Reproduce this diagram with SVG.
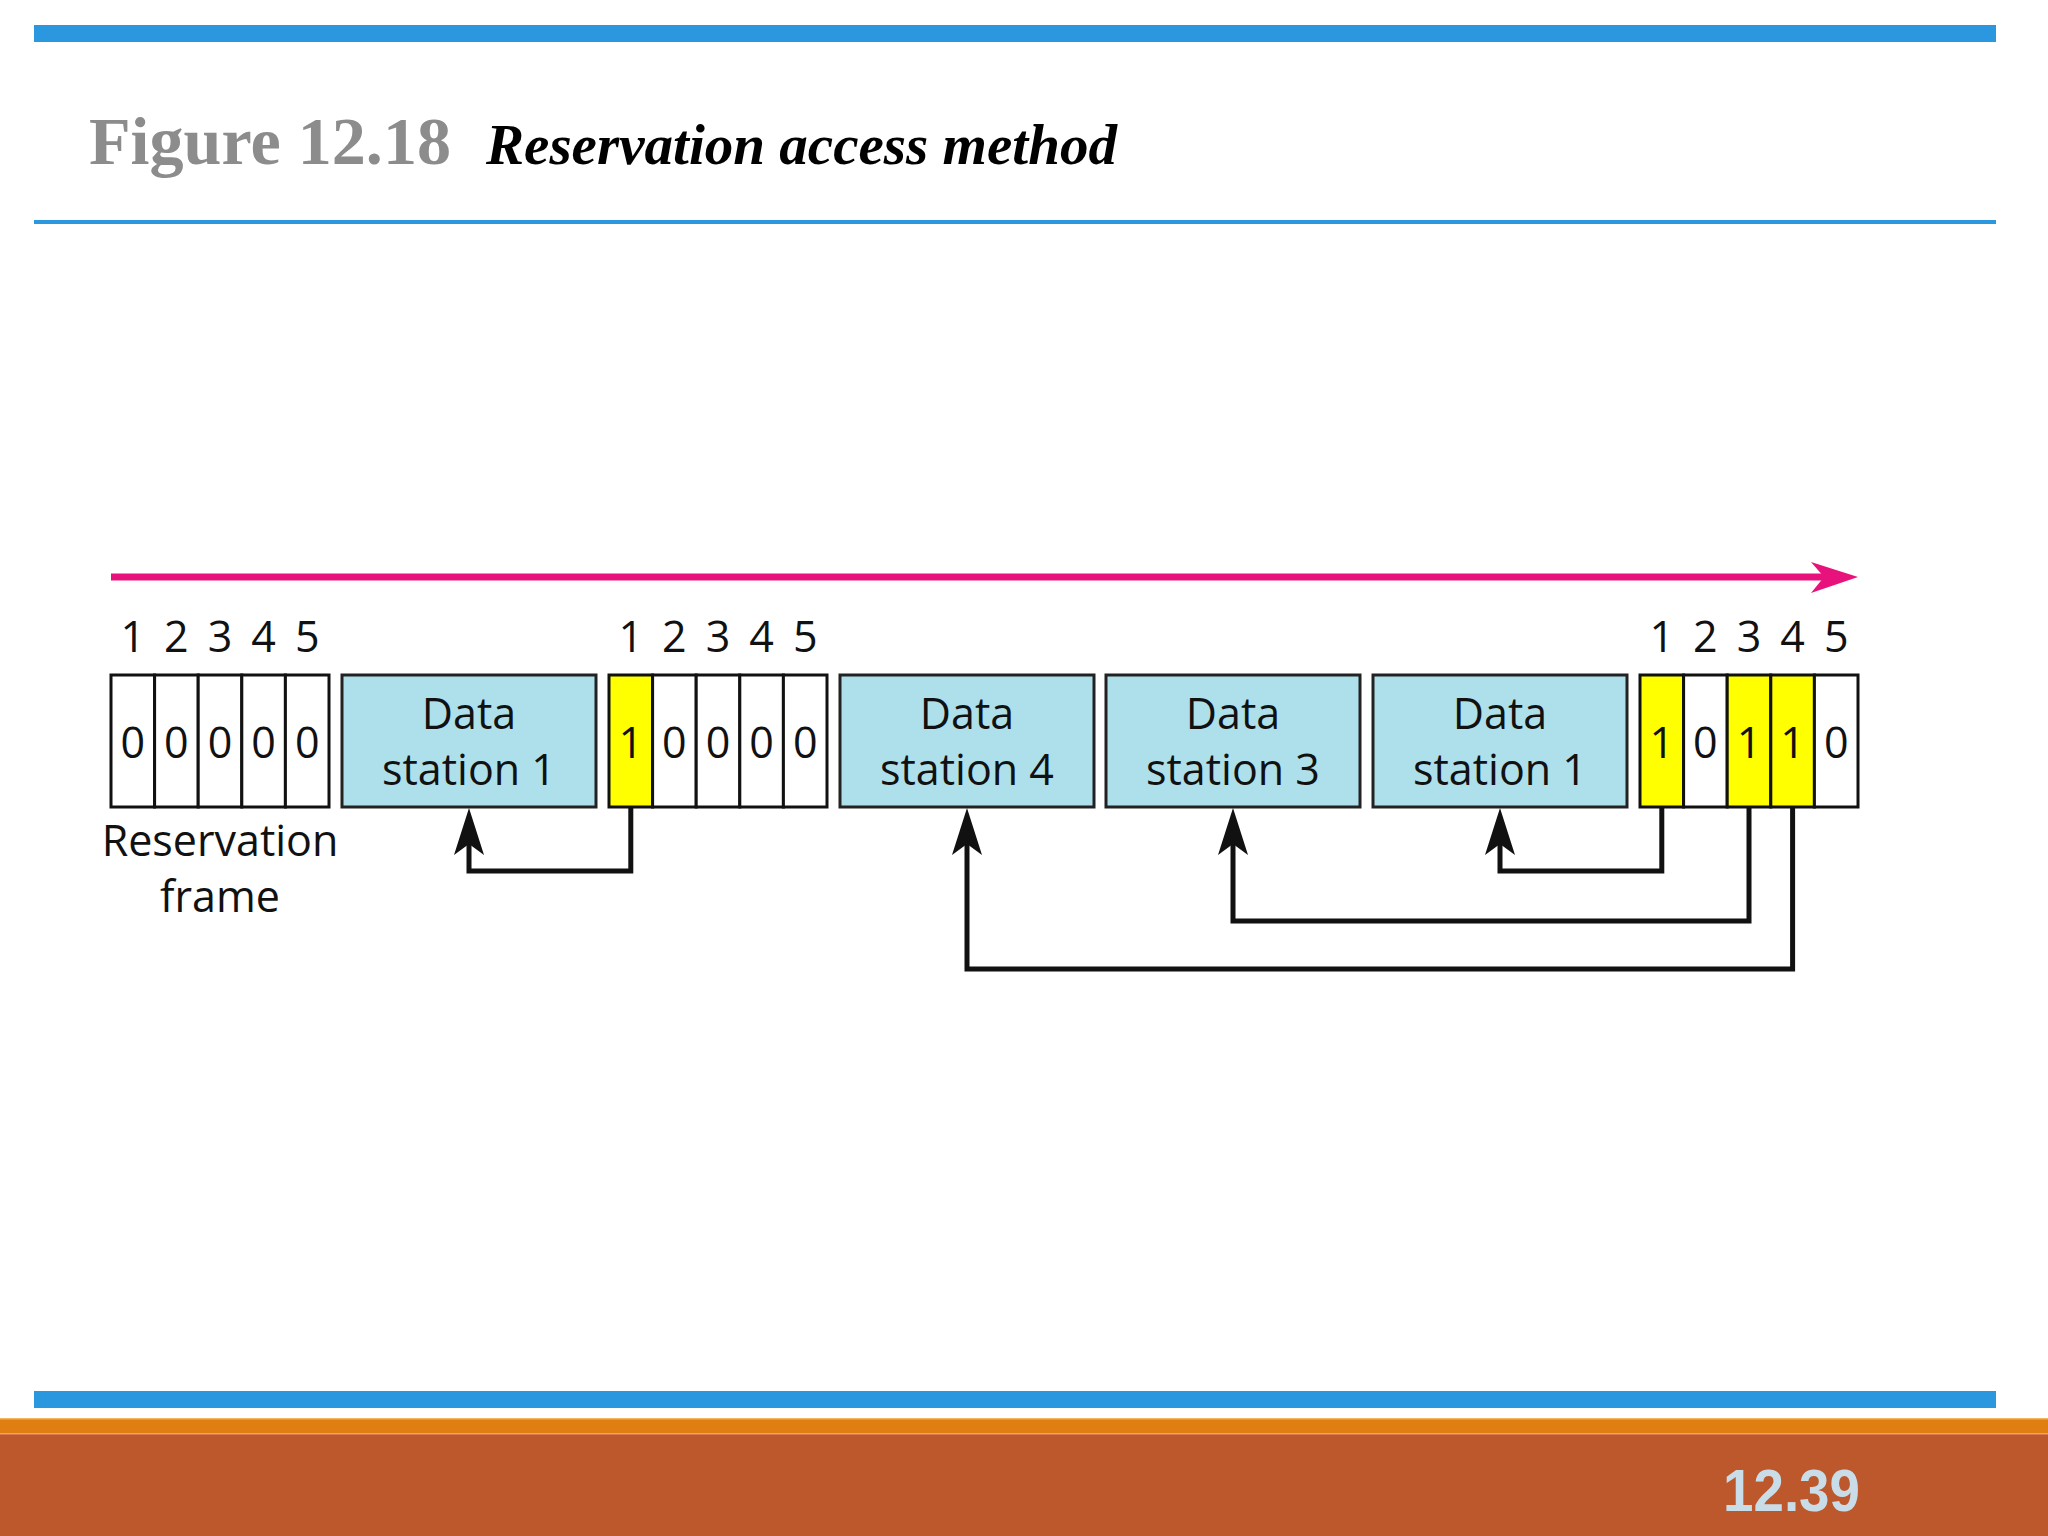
<svg xmlns="http://www.w3.org/2000/svg" width="2048" height="1536" viewBox="0 0 2048 1536">
<style>
.lbl{font-family:"Open Sans","Liberation Sans",sans-serif;font-size:43px;fill:#111;text-anchor:middle}
.cell{fill:#ffffff;stroke:#111;stroke-width:3}
.on{fill:#ffff00;stroke:#111;stroke-width:3}
.box{fill:#aee0eb;stroke:#222;stroke-width:3}
.conn{fill:none;stroke:#111;stroke-width:5;marker-end:url(#ah)}
</style>
<defs>
<marker id="ah" markerUnits="userSpaceOnUse" viewBox="-50 -16 52 32" markerWidth="52" markerHeight="32" refX="-34" refY="0" orient="auto">
<path d="M0,0 L-47,-15 L-36,0 L-47,15 Z" fill="#111"/>
</marker>
</defs>
<rect width="2048" height="1536" fill="#ffffff"/>
<!-- header -->
<rect x="34" y="25" width="1962" height="17" fill="#2b97df"/>
<text x="89" y="164" font-family="Liberation Serif,serif" font-weight="bold" font-size="68" fill="#8c8c8c" textLength="362" lengthAdjust="spacingAndGlyphs">Figure 12.18</text>
<text x="486" y="164" font-family="Liberation Serif,serif" font-weight="bold" font-style="italic" font-size="58" fill="#000" textLength="631" lengthAdjust="spacingAndGlyphs">Reservation access method</text>
<rect x="34" y="220" width="1962" height="4" fill="#2b97df"/>

<!-- time arrow -->
<g id="timeline">
<line x1="111" y1="577" x2="1830" y2="577" stroke="#e8127c" stroke-width="7"/>
<path d="M1858,577 L1811,562 L1824,577 L1811,593 Z" fill="#e8127c"/>
</g>

<!-- reservation frame 1 -->
<g id="frame1">
<rect class="cell" x="111" y="675" width="43.6" height="132"/>
<rect class="cell" x="154.6" y="675" width="43.6" height="132"/>
<rect class="cell" x="198.2" y="675" width="43.6" height="132"/>
<rect class="cell" x="241.8" y="675" width="43.6" height="132"/>
<rect class="cell" x="285.4" y="675" width="43.6" height="132"/>
<text class="lbl" x="132.8" y="652">1</text><text class="lbl" x="176.4" y="652">2</text><text class="lbl" x="220" y="652">3</text><text class="lbl" x="263.6" y="652">4</text><text class="lbl" x="307.2" y="652">5</text>
<text class="lbl" x="132.8" y="758">0</text><text class="lbl" x="176.4" y="758">0</text><text class="lbl" x="220" y="758">0</text><text class="lbl" x="263.6" y="758">0</text><text class="lbl" x="307.2" y="758">0</text>
<text class="lbl" x="220" y="856">Reservation</text>
<text class="lbl" x="220" y="912">frame</text>
</g>

<g id="ds1a">
<rect class="box" x="342" y="675" width="254" height="132"/>
<text class="lbl" x="469" y="729">Data</text>
<text class="lbl" x="469" y="785">station 1</text>
</g>

<g id="frame2">
<rect class="on" x="609" y="675" width="43.6" height="132"/>
<rect class="cell" x="652.6" y="675" width="43.6" height="132"/>
<rect class="cell" x="696.2" y="675" width="43.6" height="132"/>
<rect class="cell" x="739.8" y="675" width="43.6" height="132"/>
<rect class="cell" x="783.4" y="675" width="43.6" height="132"/>
<text class="lbl" x="630.8" y="652">1</text><text class="lbl" x="674.4" y="652">2</text><text class="lbl" x="718" y="652">3</text><text class="lbl" x="761.6" y="652">4</text><text class="lbl" x="805.2" y="652">5</text>
<text class="lbl" x="630.8" y="758">1</text><text class="lbl" x="674.4" y="758">0</text><text class="lbl" x="718" y="758">0</text><text class="lbl" x="761.6" y="758">0</text><text class="lbl" x="805.2" y="758">0</text>
</g>

<g id="ds4">
<rect class="box" x="840" y="675" width="254" height="132"/>
<text class="lbl" x="967" y="729">Data</text>
<text class="lbl" x="967" y="785">station 4</text>
</g>

<g id="ds3">
<rect class="box" x="1106" y="675" width="254" height="132"/>
<text class="lbl" x="1233" y="729">Data</text>
<text class="lbl" x="1233" y="785">station 3</text>
</g>

<g id="ds1b">
<rect class="box" x="1373" y="675" width="254" height="132"/>
<text class="lbl" x="1500" y="729">Data</text>
<text class="lbl" x="1500" y="785">station 1</text>
</g>

<g id="frame3">
<rect class="on" x="1640" y="675" width="43.6" height="132"/>
<rect class="cell" x="1683.6" y="675" width="43.6" height="132"/>
<rect class="on" x="1727.2" y="675" width="43.6" height="132"/>
<rect class="on" x="1770.8" y="675" width="43.6" height="132"/>
<rect class="cell" x="1814.4" y="675" width="43.6" height="132"/>
<text class="lbl" x="1661.8" y="652">1</text><text class="lbl" x="1705.4" y="652">2</text><text class="lbl" x="1749" y="652">3</text><text class="lbl" x="1792.6" y="652">4</text><text class="lbl" x="1836.2" y="652">5</text>
<text class="lbl" x="1661.8" y="758">1</text><text class="lbl" x="1705.4" y="758">0</text><text class="lbl" x="1749" y="758">1</text><text class="lbl" x="1792.6" y="758">1</text><text class="lbl" x="1836.2" y="758">0</text>
</g>

<g id="connectors">
<polyline class="conn" points="630.8,808 630.8,871 469,871 469,842"/>
<polyline class="conn" points="1661.8,808 1661.8,871 1500,871 1500,842"/>
<polyline class="conn" points="1749,808 1749,921 1233,921 1233,842"/>
<polyline class="conn" points="1792.6,808 1792.6,969 967,969 967,842"/>
</g>

<!-- footer -->
<rect x="34" y="1391" width="1962" height="17" fill="#2b97df"/>
<rect x="0" y="1418" width="2048" height="16" fill="#e07e12"/>
<rect x="0" y="1418" width="2048" height="1.5" fill="#f4b460"/>
<rect x="0" y="1434" width="2048" height="102" fill="#bc582c"/>
<rect x="0" y="1433" width="2048" height="1.5" fill="#f0a070"/>
<text x="1723" y="1511" font-family="Liberation Sans,sans-serif" font-weight="bold" font-size="60" fill="#c9dde9" textLength="137" lengthAdjust="spacingAndGlyphs">12.39</text>
</svg>
